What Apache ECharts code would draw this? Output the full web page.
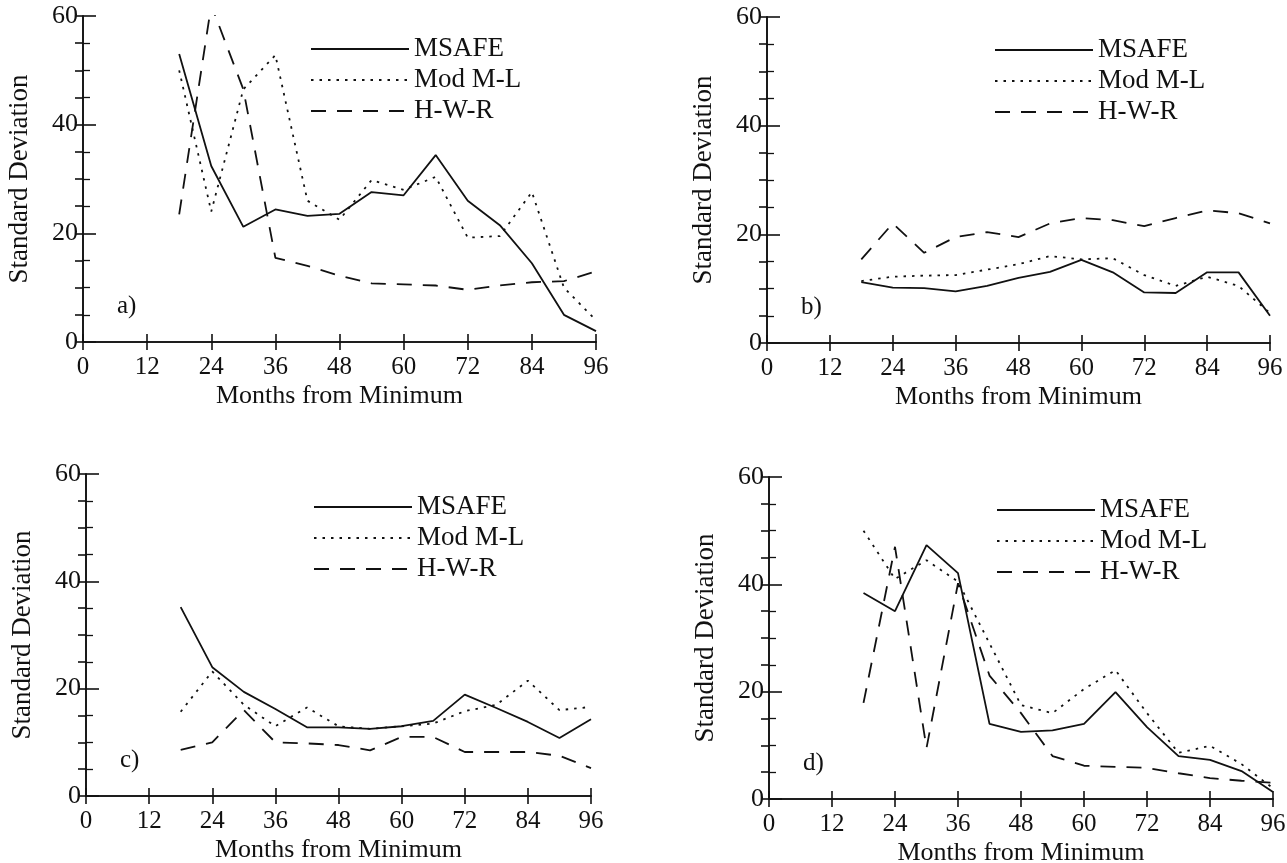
<!DOCTYPE html>
<html>
<head>
<meta charset="utf-8">
<script src="https://cdn.jsdelivr.net/npm/echarts@6/dist/echarts.min.js"></script>
<style>
  html, body { margin: 0; padding: 0; background: #fff; }
  #chart { width: 1287px; height: 863px; }
</style>
</head>
<body>
<div id="chart"></div>
<script>
// months from minimum, one point every 6 months
var months = [18, 24, 30, 36, 42, 48, 54, 60, 66, 72, 78, 84, 90, 96];
var seriesNames = ['MSAFE', 'Mod M-L', 'H-W-R'];
var panelLabels = ['a)', 'b)', 'c)', 'd)'];

// panel a
var msafeA = [53, 32.4, 21.2, 24.4, 23.2, 23.6, 27.6, 27.0, 34.4, 26.0, 21.5, 14.5, 5.0, 2.0];
var modmlA = [50, 24.0, 46.5, 52.8, 26.0, 22.5, 29.8, 28.0, 30.4, 19.2, 19.5, 27.6, 10.0, 4.0];
var hwrA   = [23.5, 62, 46.5, 15.5, 14.0, 12.2, 10.8, 10.6, 10.4, 9.6, 10.4, 11.0, 11.2, 13.0];
// panel b
var msafeB = [11.2, 10.2, 10.1, 9.5, 10.5, 12.0, 13.1, 15.3, 13.0, 9.3, 9.2, 13.0, 13.0, 5.0];
var modmlB = [11.4, 12.2, 12.4, 12.5, 13.5, 14.5, 16.0, 15.4, 15.6, 12.5, 10.5, 12.2, 10.5, 5.5];
var hwrB   = [15.4, 22.0, 16.6, 19.5, 20.4, 19.5, 22.0, 23.0, 22.6, 21.5, 23.0, 24.4, 23.9, 22.0];
// panel c
var msafeC = [35.2, 24.0, 19.4, 16.2, 12.8, 12.8, 12.5, 13.0, 14.0, 18.9, 16.4, 13.8, 10.8, 14.3];
var modmlC = [15.7, 23.2, 17.0, 13.0, 16.5, 13.0, 12.5, 13.0, 13.5, 15.8, 17.0, 21.5, 16.0, 16.6];
var hwrC   = [8.6, 10.0, 16.0, 10.0, 9.8, 9.5, 8.5, 11.0, 11.0, 8.2, 8.2, 8.2, 7.5, 5.2];
// panel d
var msafeD = [38.4, 35.0, 47.3, 42.1, 14.0, 12.5, 12.8, 14.0, 19.9, 13.4, 8.0, 7.3, 5.2, 1.3];
var modmlD = [50.0, 41.0, 44.5, 40.5, 29.0, 17.5, 16.0, 20.5, 24.0, 16.0, 8.6, 9.9, 6.5, 2.0];
var hwrD   = [17.9, 47.0, 9.5, 40.2, 23.0, 16.0, 8.0, 6.2, 6.0, 5.8, 4.8, 3.9, 3.4, 3.0];

var panelData = [
  [msafeA, modmlA, hwrA],
  [msafeB, modmlB, hwrB],
  [msafeC, modmlC, hwrC],
  [msafeD, modmlD, hwrD]
];

var font = 'Liberation Serif';
var ink = '#111';
// grid boxes in px: left, top, width, height
var boxes = [
  [83, 16, 513, 326],
  [767, 17, 503, 326],
  [86, 474, 505, 322],
  [769, 477, 504, 322]
];
var lineTypes = ['solid', [2.5, 6], [15, 11]];

var grids = [], xAxes = [], yAxes = [], series = [], legends = [], graphics = [];
var axisLineStyle = { color: ink, width: 1.6 };

boxes.forEach(function (b, i) {
  grids.push({ left: b[0], top: b[1], width: b[2], height: b[3], outerBoundsMode: 'none' });

  xAxes.push({
    gridIndex: i, type: 'value', position: 'bottom', min: 0, max: 96, interval: 12,
    axisLine: { lineStyle: axisLineStyle },
    axisTick: { inside: true, length: 8, lineStyle: axisLineStyle },
    axisLabel: { fontFamily: font, fontSize: 25, color: ink, margin: 13 },
    splitLine: { show: false },
    name: 'Months from Minimum', nameLocation: 'middle', nameGap: 41,
    nameTextStyle: { fontFamily: font, fontSize: 26, color: ink }
  });
  xAxes.push({
    gridIndex: i, type: 'value', position: 'top', min: 0, max: 96, interval: 12,
    axisLine: { lineStyle: axisLineStyle },
    axisTick: { inside: true, length: 8, lineStyle: axisLineStyle },
    axisLabel: { show: false }, splitLine: { show: false }
  });
  yAxes.push({
    gridIndex: i, type: 'value', position: 'left', min: 0, max: 60, interval: 20,
    axisLine: { lineStyle: axisLineStyle },
    axisTick: { inside: true, length: 13, lineStyle: axisLineStyle },
    minorTick: { show: true, splitNumber: 4, length: 7, lineStyle: { color: ink, width: 1.3 } },
    axisLabel: { fontFamily: font, fontSize: 26, color: ink, margin: 5 },
    splitLine: { show: false },
    name: 'Standard Deviation', nameLocation: 'middle', nameGap: 50,
    nameTextStyle: { fontFamily: font, fontSize: 27, color: ink }
  });
  yAxes.push({
    gridIndex: i, type: 'value', position: 'right', min: 0, max: 60, interval: 5,
    axisLine: { lineStyle: axisLineStyle },
    axisTick: { inside: true, length: 8, lineStyle: axisLineStyle },
    axisLabel: { show: false }, splitLine: { show: false }
  });

  panelData[i].forEach(function (vals, k) {
    series.push({
      name: seriesNames[k], type: 'line', xAxisIndex: 2 * i, yAxisIndex: 2 * i,
      symbol: 'none', clip: true, animation: false,
      lineStyle: { color: ink, width: 1.8, type: lineTypes[k] },
      itemStyle: { color: ink },
      data: months.map(function (m, j) { return [m, vals[j]]; })
    });
  });

  legends.push({
    orient: 'vertical', left: b[0] + 222, top: b[1] + 13,
    data: seriesNames, itemWidth: 98, itemHeight: 14, itemGap: 1,
    selectedMode: false,
    itemStyle: { opacity: 0 },
    textStyle: { fontFamily: font, fontSize: 27, color: ink, lineHeight: 30 }
  });

  graphics.push({
    type: 'text', left: b[0] + 34, top: b[1] + b[3] - 48,
    style: { text: panelLabels[i], fontFamily: font, fontSize: 25, fill: ink }
  });
});

var myChart = echarts.init(document.getElementById('chart'));
myChart.setOption({
  backgroundColor: '#fff',
  animation: false,
  grid: grids,
  xAxis: xAxes,
  yAxis: yAxes,
  legend: legends,
  graphic: graphics,
  series: series
});
</script>
</body>
</html>
